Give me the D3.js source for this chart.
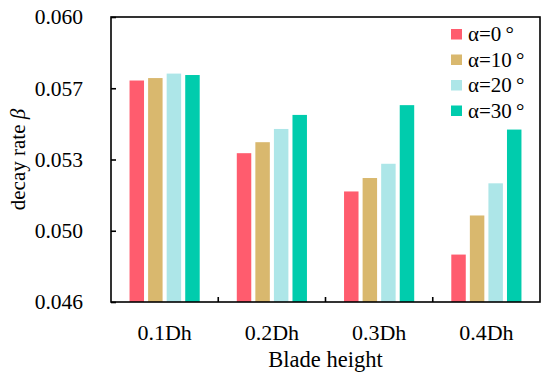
<!DOCTYPE html>
<html><head><meta charset="utf-8">
<script src="https://cdn.jsdelivr.net/npm/d3@7"></script>
<style>body{margin:0;background:#fff}svg{display:block}</style>
</head><body>
<svg id="c" width="550" height="381"></svg>
<script>
const categories = ["0.1Dh","0.2Dh","0.3Dh","0.4Dh"];
const seriesNames = ["α=0\u2009°","α=10\u2009°","α=20\u2009°","α=30\u2009°"];
const colors = ["#FF5C6E","#D9B86E","#ADE6E8","#00CCAD"];
const alpha0  = [0.05688, 0.05331, 0.05143, 0.04833];
const alpha10 = [0.05700, 0.05385, 0.05209, 0.05025];
const alpha20 = [0.05722, 0.05450, 0.05279, 0.05183];
const alpha30 = [0.05715, 0.05519, 0.05567, 0.05447];
const yTicks = [0.046, 0.0495, 0.053, 0.0565, 0.060];
const seriesValues = [alpha0, alpha10, alpha20, alpha30];

const svg = d3.select("#c");
const m = {l:111, r:540, t:17, b:302};
const font = "'Liberation Serif','Times New Roman',serif";

const x = d3.scaleBand().domain(categories).range([m.l, m.r]).paddingInner(0).paddingOuter(0);
const x1 = d3.scaleBand().domain(d3.range(4)).range([16.5, x.bandwidth()-16.5]).paddingInner(0.22).paddingOuter(0.11);
const y = d3.scaleLinear().domain([0.046, 0.060]).range([m.b, m.t]);

// bars
const g = svg.append("g");
categories.forEach((c, ci) => {
  seriesValues.forEach((vals, si) => {
    g.append("rect")
      .attr("x", x(c) + x1(si))
      .attr("width", x1.bandwidth())
      .attr("y", y(vals[ci]))
      .attr("height", y(0.046) - y(vals[ci]))
      .attr("fill", colors[si]);
  });
});

// frame
svg.append("rect").attr("x", m.l).attr("y", m.t).attr("width", m.r-m.l).attr("height", m.b-m.t)
  .attr("fill","none").attr("stroke","#000").attr("stroke-width",1.6);

// y axis
const yAxis = d3.axisLeft(y).tickValues(yTicks).tickFormat(d3.format(".3f")).tickSizeInner(-5).tickSizeOuter(0).tickPadding(28);
const ya = svg.append("g").attr("transform",`translate(${m.l},0)`).call(yAxis);
ya.select(".domain").remove();
ya.selectAll("line").attr("stroke","#000").attr("stroke-width",1.6);
ya.selectAll("text").attr("font-family",font).attr("font-size",21.5).attr("fill","#000");

// x axis ticks at band boundaries
const xa = svg.append("g").attr("transform",`translate(0,${m.b})`);
categories.slice(1).forEach(c => {
  xa.append("line").attr("x1",x(c)).attr("x2",x(c)).attr("y1",0).attr("y2",-5).attr("stroke","#000").attr("stroke-width",1.6);
});
categories.forEach(c => {
  xa.append("text").attr("x", x(c)+x.bandwidth()/2).attr("y", 38).attr("text-anchor","middle")
    .attr("font-family",font).attr("font-size",22).attr("fill","#000").text(c);
});

// axis titles
svg.append("text").attr("x", (m.l+m.r)/2).attr("y", 367).attr("text-anchor","middle")
  .attr("font-family",font).attr("font-size",22.5).attr("fill","#000").text("Blade height");
const yt = svg.append("text").attr("transform",`translate(25,${(m.t+m.b)/2}) rotate(-90)`).attr("text-anchor","middle")
  .attr("font-family",font).attr("font-size",21).attr("fill","#000");
yt.append("tspan").text("decay rate ");
yt.append("tspan").attr("font-style","italic").text("β");

// legend
const lg = svg.append("g");
seriesNames.forEach((n, i) => {
  const yy = 29 + i*25.5;
  lg.append("rect").attr("x",451).attr("y",yy).attr("width",11).attr("height",10.5).attr("fill",colors[i]);
  lg.append("text").attr("x",468).attr("y",yy+12).attr("font-family",font).attr("font-size",21).attr("fill","#000").text(n);
});
</script>
</body></html>
